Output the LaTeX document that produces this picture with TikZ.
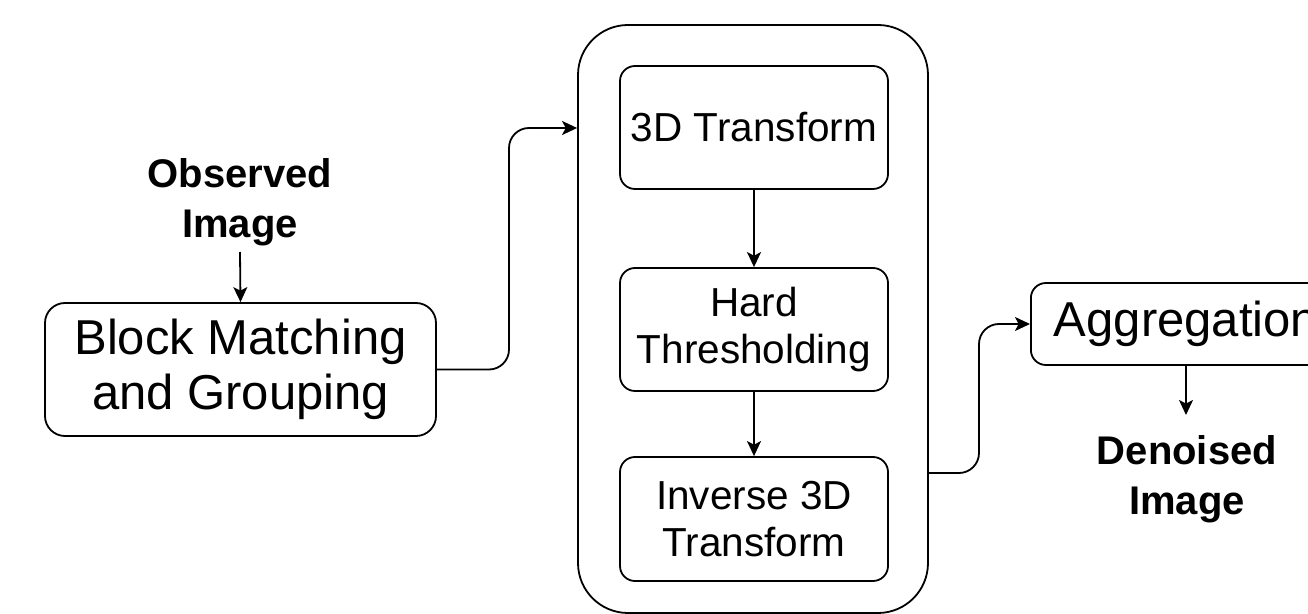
\documentclass[tikz,border=0pt]{standalone}
\usepackage{fontspec}
\setmainfont{Liberation Sans}
\usetikzlibrary{arrows.meta}
\tikzset{
  box/.style={draw=black, line width=0.9pt, rounded corners=7.5pt, align=center, inner sep=0pt},
  bigtext/.style={font=\fontsize{24.5}{27.5}\selectfont},
  midtext/.style={font=\fontsize{20.25}{23.5}\selectfont},
  label/.style={align=center, inner sep=0pt, font=\fontsize{20}{25}\selectfont\bfseries},
  arr/.style={line width=0.9pt, -{Stealth[length=7.5pt,width=7pt,inset=1.8pt]}},
}
\begin{document}
\begin{tikzpicture}[x=0.5pt,y=-0.5pt]
\useasboundingbox (0,0) rectangle (1308,614);
\clip (0,0) rectangle (1308,614);

% collaborative filtering group
\node[box, rounded corners=25pt, minimum width=175pt, minimum height=294pt] (outer) at (753,319) {};

\node[box, midtext, minimum width=134pt, minimum height=61.5pt] (t3d) at (754,127.5) {3D Transform};
\node[box, midtext, minimum width=134pt, minimum height=61.5pt] (hard) at (754,329.5) {Hard\\Thresholding};
\node[box, midtext, minimum width=134pt, minimum height=62pt] (inv) at (754,519) {Inverse 3D\\Transform};

% grouping stage
\node[box, bigtext, rounded corners=10pt, minimum width=195.5pt, minimum height=66.5pt] (bm) at (240.5,369.5) {Block Matching\\and Grouping};
\node[label] (obs) at (240,202) {Observed\\Image};
\coordinate (obsend) at (240,252);

% aggregation stage
\node[box, bigtext, anchor=west, inner xsep=11.5pt, minimum height=41pt] (agg) at (1030,324) {Aggregation};
\node[label] (den) at (1187,479) {Denoised\\Image};
\coordinate (aggend) at (1186,415);

% connectors
\draw[arr] (obsend) -- (bm.north);
\draw[arr] (t3d) -- (hard);
\draw[arr] (hard) -- (inv);
\draw[arr] (agg.south -| aggend) -- (aggend);

\coordinate (j1) at (509,128);
\draw[arr, rounded corners=10pt] (bm.east) -| (j1) -- (j1 -| outer.west);

\coordinate (j2) at (979,473);
\draw[arr, rounded corners=10pt] (j2 -| outer.east) -- (j2) |- (agg.west);
\end{tikzpicture}
\end{document}
